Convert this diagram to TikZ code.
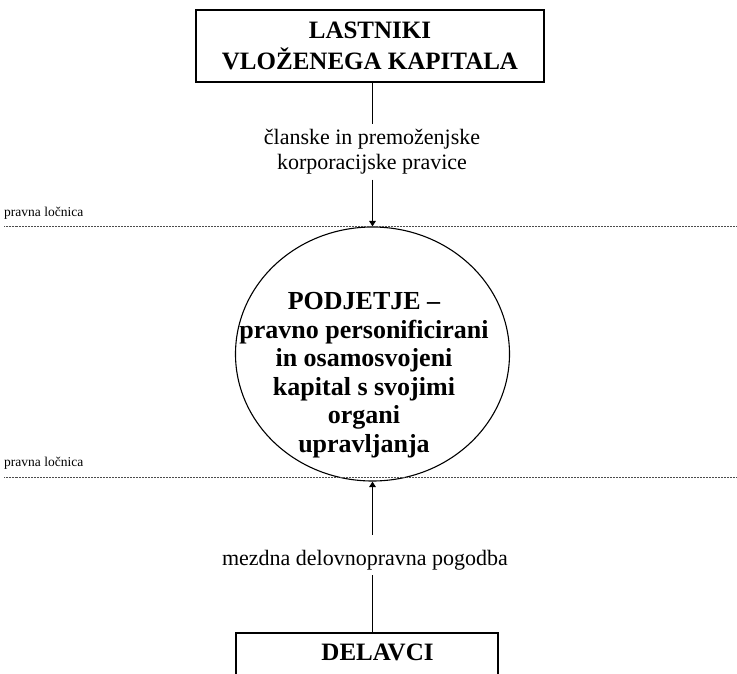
\documentclass[tikz,border=0pt]{standalone}
\usepackage{fontspec}
\setmainfont{Liberation Serif}
\usetikzlibrary{arrows.meta, shapes.geometric, positioning}

\begin{document}
\begin{tikzpicture}[>={Triangle[length=5.5pt,width=6.5pt]}, x=1pt, y=-1pt,
    box/.style={draw, line width=1.5pt, inner sep=0pt},
    bigtext/.style={font=\fontsize{25}{31}\selectfont\bfseries, align=center},
    ellipsetext/.style={font=\fontsize{26}{28.5}\selectfont\bfseries, align=center},
    linktext/.style={font=\fontsize{22}{25}\selectfont, align=center},
    border/.style={draw=black!70, line width=.6pt, dash pattern=on .6pt off .9pt},
    bordertext/.style={font=\fontsize{13.5}{16}\selectfont, anchor=base west, inner sep=0pt},
    link/.style={line width=1.4pt}]
  \useasboundingbox (0,0) rectangle (737,674);
  \clip (0,0) rectangle (737,674);
  \coordinate (axis) at (372.5,0);

  \node[box, bigtext, minimum width=348pt, minimum height=72pt] (owners) at (370,46)
      {LASTNIKI\\VLOŽENEGA KAPITALA};
  \node[linktext, inner sep=5pt] (rights) at (372,152)
      {članske in premoženjske\\korporacijske pravice};
  \node[box, ellipse, line width=1.1pt, minimum width=274pt, minimum height=254pt] (company) at (372.5,354) {};
  \node[ellipsetext] (companytext) at (364,375)
      {PODJETJE –\\pravno personificirani\\in osamosvojeni\\kapital s svojimi\\organi\\upravljanja};
  \node[linktext, text height=25pt, text depth=5pt, inner sep=5pt, anchor=base] (contract) at (365,565)
      {mezdna delovnopravna pogodba};
  \node[box, minimum width=262pt, minimum height=100pt, anchor=north] (workers) at (367,632) {};
  \node[bigtext, anchor=base] (workerstext) at (377.5,660) {DELAVCI};

  \node[bordertext] (border1) at (4,217) {pravna ločnica};
  \node[bordertext] (border2) at (4,466) {pravna ločnica};
  \draw[border] (4,226) -- (737,226);
  \draw[border] (4,477) -- (737,477);

  \draw[link] (owners.south -| axis) -- (rights.north -| axis);
  \draw[link, ->] (rights.south -| axis) -- (company.north);
  \draw[link, ->] (contract.north -| axis) -- (company.south);
  \draw[link] (contract.south -| axis) -- (workers.north -| axis);
\end{tikzpicture}
\end{document}
